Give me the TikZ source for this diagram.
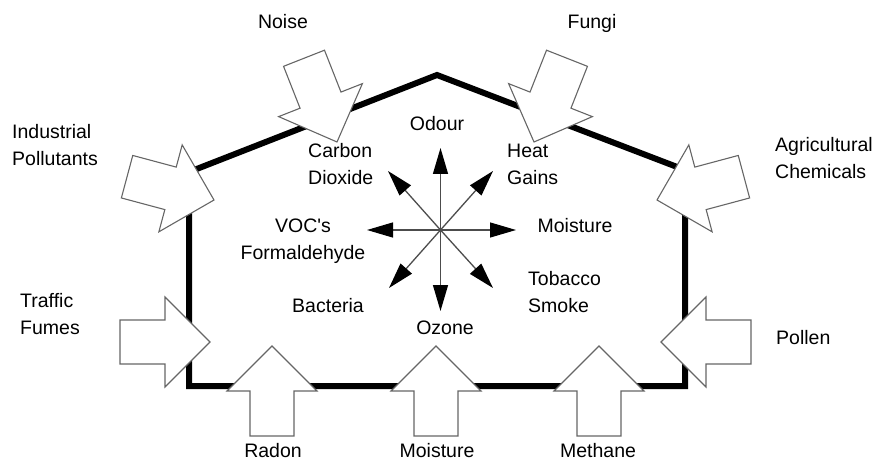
\documentclass[tikz,border=0pt]{standalone}
\usepackage{fontspec}
\setmainfont{Liberation Sans}
\usetikzlibrary{arrows.meta}
\begin{document}
\begin{tikzpicture}[x=1pt,y=-1pt,
  lbl/.style={inner sep=0pt, font=\fontsize{19.5}{27}\selectfont, text=black},
  wall/.style={line width=6pt, line join=miter, draw=black},
  ray/.style={draw=black!70, line width=1.3pt, -{Triangle[length=26pt,width=15pt,color=black]}},
  blockarrow/.pic={\draw[fill=white, draw=black!60, line width=1.1pt, line join=miter]
     (0,0) -- (-45,-45) -- (-45,-22) -- (-90,-22) -- (-90,22) -- (-45,22) -- (-45,45) -- cycle;}
]
\useasboundingbox (0,0) rectangle (883,462);
% house
\coordinate (hl) at (189,172);
\coordinate (ha) at (437,75);
\coordinate (hr) at (685,170);
\coordinate (bl) at (189,386);
\coordinate (br) at (685,386);
\draw[wall] (hl) -- (ha) -- (hr) -- (br) -- (bl) -- cycle;
% block arrows
\pic[rotate=0] at (210,342) {blockarrow};
\pic[rotate=180] at (661,342) {blockarrow};
\pic[rotate=90] at (272,346) {blockarrow};
\pic[rotate=90] at (436,346) {blockarrow};
\pic[rotate=90] at (599,346) {blockarrow};
\pic[rotate=-68.5] at (337,142) {blockarrow};
\pic[rotate=-111.5] at (534,142) {blockarrow};
\pic[rotate=-15] at (214,200) {blockarrow};
\pic[rotate=-165] at (657,200) {blockarrow};
% star
\coordinate (c) at (440.5,230);
\coordinate (tu) at (440.5,148);
\coordinate (td) at (440.5,311);
\coordinate (tl) at (367,230);
\coordinate (tr) at (516,230);
\coordinate (tul) at (388,171);
\coordinate (tur) at (493,171);
\coordinate (tll) at (389,288);
\coordinate (tlr) at (493,288);
\foreach \t in {tu,td,tl,tr,tul,tur,tll,tlr} \draw[ray] (c) -- (\t);
% outer labels (multi-line nodes: base = last line)
\node[lbl, anchor=base] (noise) at (283,29) {Noise};
\node[lbl, anchor=base] (fungi) at (592,29) {Fungi};
\node[lbl, anchor=base west, align=left] (ind) at (12,166) {Industrial\\Pollutants};
\node[lbl, anchor=base west, align=left] (agr) at (775,179) {Agricultural\\Chemicals};
\node[lbl, anchor=base west, align=left] (traf) at (20,334) {Traffic\\Fumes};
\node[lbl, anchor=base west] (pollen) at (776,344) {Pollen};
\node[lbl, anchor=base] (radon) at (273,457) {Radon};
\node[lbl, anchor=base] (moist) at (437,457) {Moisture};
\node[lbl, anchor=base] (meth) at (598,457) {Methane};
% inner labels
\node[lbl, anchor=base] (odour) at (437,131) {Odour};
\node[lbl, anchor=base west, align=left] (co2) at (308,185) {Carbon\\Dioxide};
\node[lbl, anchor=base west, align=left] (heat) at (507,185) {Heat\\Gains};
\node[lbl, anchor=base, align=center] (voc) at (303,260) {VOC\textquotesingle s\\Formaldehyde};
\node[lbl, anchor=base] (imoist) at (575,233) {Moisture};
\node[lbl, anchor=base west, align=left] (tob) at (528,312) {Tobacco\\Smoke};
\node[lbl, anchor=base] (bact) at (328,312) {Bacteria};
\node[lbl, anchor=base] (ozone) at (445,334) {Ozone};
\end{tikzpicture}
\end{document}
